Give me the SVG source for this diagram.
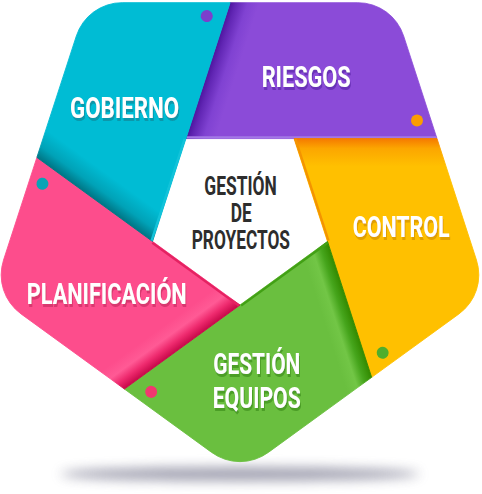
<svg xmlns="http://www.w3.org/2000/svg" width="482" height="494" viewBox="0 0 482 494">
<defs>
<style>
.lbl{font-family:Roboto,"Liberation Sans",Arial,sans-serif;font-weight:700;font-size:30px;fill:#fff}
.ctr{font-family:Roboto,"Liberation Sans",Arial,sans-serif;font-weight:700;font-size:26.7px;fill:#2d2d2d}
.edge{stroke-width:2.4;fill:none}
</style>
<linearGradient id="gp" gradientUnits="userSpaceOnUse" x1="208" y1="70.61" x2="234.6" y2="79.26">
<stop offset="0" stop-color="#4e149e"/><stop offset="0.2" stop-color="#6126b4"/><stop offset="0.6" stop-color="#8042d2"/><stop offset="1" stop-color="#8b4bd8"/>
</linearGradient>
<linearGradient id="go" gradientUnits="userSpaceOnUse" x1="208" y1="70.61" x2="234.6" y2="79.26">
<stop offset="0" stop-color="#f57a00"/><stop offset="0.35" stop-color="#fca600"/><stop offset="1" stop-color="#ffc000"/>
</linearGradient>
<linearGradient id="gg" gradientUnits="userSpaceOnUse" x1="208" y1="70.61" x2="234.6" y2="79.26">
<stop offset="0" stop-color="#328a00"/><stop offset="0.3" stop-color="#46a51c"/><stop offset="0.6" stop-color="#72c646"/><stop offset="1" stop-color="#6abf3f"/>
</linearGradient>
<linearGradient id="gk" gradientUnits="userSpaceOnUse" x1="208" y1="70.61" x2="234.6" y2="79.26">
<stop offset="0" stop-color="#c8084a"/><stop offset="0.3" stop-color="#ee2a6e"/><stop offset="0.6" stop-color="#ff5a95"/><stop offset="1" stop-color="#fd4d8c"/>
</linearGradient>
<linearGradient id="gc" gradientUnits="userSpaceOnUse" x1="208" y1="70.61" x2="234.6" y2="79.26">
<stop offset="0" stop-color="#007584"/><stop offset="0.4" stop-color="#00a2b7"/><stop offset="1" stop-color="#00bcd4"/>
</linearGradient>
<filter id="sb" x="-20%" y="-200%" width="140%" height="500%"><feGaussianBlur stdDeviation="6"/></filter>
<filter id="ds-pu" x="-10%" y="-20%" width="130%" height="160%"><feGaussianBlur in="SourceAlpha" stdDeviation="0.6"/><feOffset dx="2" dy="3" result="o"/><feFlood flood-color="#6a32b8"/><feComposite in2="o" operator="in"/><feMerge><feMergeNode/><feMergeNode in="SourceGraphic"/></feMerge></filter>
<filter id="ds-or" x="-10%" y="-20%" width="130%" height="160%"><feGaussianBlur in="SourceAlpha" stdDeviation="0.6"/><feOffset dx="2" dy="3" result="o"/><feFlood flood-color="#e0a000"/><feComposite in2="o" operator="in"/><feMerge><feMergeNode/><feMergeNode in="SourceGraphic"/></feMerge></filter>
<filter id="ds-gr" x="-10%" y="-20%" width="130%" height="160%"><feGaussianBlur in="SourceAlpha" stdDeviation="0.6"/><feOffset dx="2" dy="3" result="o"/><feFlood flood-color="#4c9e28"/><feComposite in2="o" operator="in"/><feMerge><feMergeNode/><feMergeNode in="SourceGraphic"/></feMerge></filter>
<filter id="ds-pk" x="-10%" y="-20%" width="130%" height="160%"><feGaussianBlur in="SourceAlpha" stdDeviation="0.6"/><feOffset dx="2" dy="3" result="o"/><feFlood flood-color="#d9376f"/><feComposite in2="o" operator="in"/><feMerge><feMergeNode/><feMergeNode in="SourceGraphic"/></feMerge></filter>
<filter id="ds-cy" x="-10%" y="-20%" width="130%" height="160%"><feGaussianBlur in="SourceAlpha" stdDeviation="0.6"/><feOffset dx="2" dy="3" result="o"/><feFlood flood-color="#0897aa"/><feComposite in2="o" operator="in"/><feMerge><feMergeNode/><feMergeNode in="SourceGraphic"/></feMerge></filter>
<path id="seg" d="M185.92,138.57 L230.08,2.65 L357.83,2.65 A48.17,48.17 0 0 1 403.65,35.94 L436.99,138.57 Z"/>
</defs>

<ellipse cx="240" cy="474" rx="180" ry="7" fill="#6e6e86" opacity="0.65" filter="url(#sb)"/>

<g id="connectors"></g>

<g id="node-riesgos">
<g transform="rotate(0 240 213)">
<use href="#seg" fill="url(#gp)" stroke="url(#gp)" stroke-width="0.8"/>
<line class="edge" x1="186.5" y1="137.4" x2="436.5" y2="137.4" stroke="#a378e6"/>
<circle cx="417" cy="120.5" r="6" fill="#fb9d00"/>
</g>
<text class="lbl" filter="url(#ds-pu)" transform="translate(261.7,87) scale(0.72,1)" textLength="123.6" lengthAdjust="spacingAndGlyphs">RIESGOS</text>
</g>

<g id="node-control">
<g transform="rotate(72 240 213)">
<use href="#seg" fill="url(#go)" stroke="url(#go)" stroke-width="0.8"/>
<line class="edge" x1="186.5" y1="137.4" x2="293.5" y2="137.4" stroke="#f49400"/>
<circle cx="417" cy="120.5" r="6" fill="#4fae2c"/>
</g>
<text class="lbl" filter="url(#ds-or)" transform="translate(352.7,237.3) scale(0.72,1)" textLength="134.7" lengthAdjust="spacingAndGlyphs">CONTROL</text>
</g>

<g id="node-gestion-equipos">
<g transform="rotate(144 240 213)">
<use href="#seg" fill="url(#gg)" stroke="url(#gg)" stroke-width="0.8"/>
<line class="edge" x1="186.5" y1="137.4" x2="293.5" y2="137.4" stroke="#42a015"/>
<circle cx="417" cy="120.5" r="6" fill="#f2376f"/>
</g>
<text class="lbl" filter="url(#ds-gr)" transform="translate(213.3,373.5) scale(0.72,1)" textLength="120.8" lengthAdjust="spacingAndGlyphs">GESTIÓN</text>
<text class="lbl" filter="url(#ds-gr)" transform="translate(212.7,408.3) scale(0.72,1)" textLength="122.2" lengthAdjust="spacingAndGlyphs">EQUIPOS</text>
</g>

<g id="node-planificacion">
<g transform="rotate(216 240 213)">
<use href="#seg" fill="url(#gk)" stroke="url(#gk)" stroke-width="0.8"/>
<line class="edge" x1="186.5" y1="137.4" x2="293.5" y2="137.4" stroke="#e52262"/>
<circle cx="417" cy="120.5" r="6" fill="#08a4b6"/>
</g>
<text class="lbl" filter="url(#ds-pk)" transform="translate(26.7,304.2) scale(0.72,1)" textLength="222.2" lengthAdjust="spacingAndGlyphs">PLANIFICACIÓN</text>
</g>

<g id="node-gobierno">
<g transform="rotate(288 240 213)">
<use href="#seg" fill="url(#gc)" stroke="url(#gc)" stroke-width="0.8"/>
<line class="edge" x1="186.5" y1="137.4" x2="293.5" y2="137.4" stroke="#12c3da"/>
<circle cx="417" cy="120.5" r="6" fill="#7c3fcc"/>
</g>
<text class="lbl" filter="url(#ds-cy)" transform="translate(70,118.3) scale(0.72,1)" textLength="151.4" lengthAdjust="spacingAndGlyphs">GOBIERNO</text>
</g>

<g id="node-center">
<text class="ctr" transform="translate(204.3,195) scale(0.72,1)" textLength="100.6" lengthAdjust="spacingAndGlyphs">GESTIÓN</text>
<text class="ctr" transform="translate(230.7,221.7) scale(0.72,1)" textLength="29.2" lengthAdjust="spacingAndGlyphs">DE</text>
<text class="ctr" transform="translate(191.7,249) scale(0.72,1)" textLength="136.5" lengthAdjust="spacingAndGlyphs">PROYECTOS</text>
</g>
</svg>
